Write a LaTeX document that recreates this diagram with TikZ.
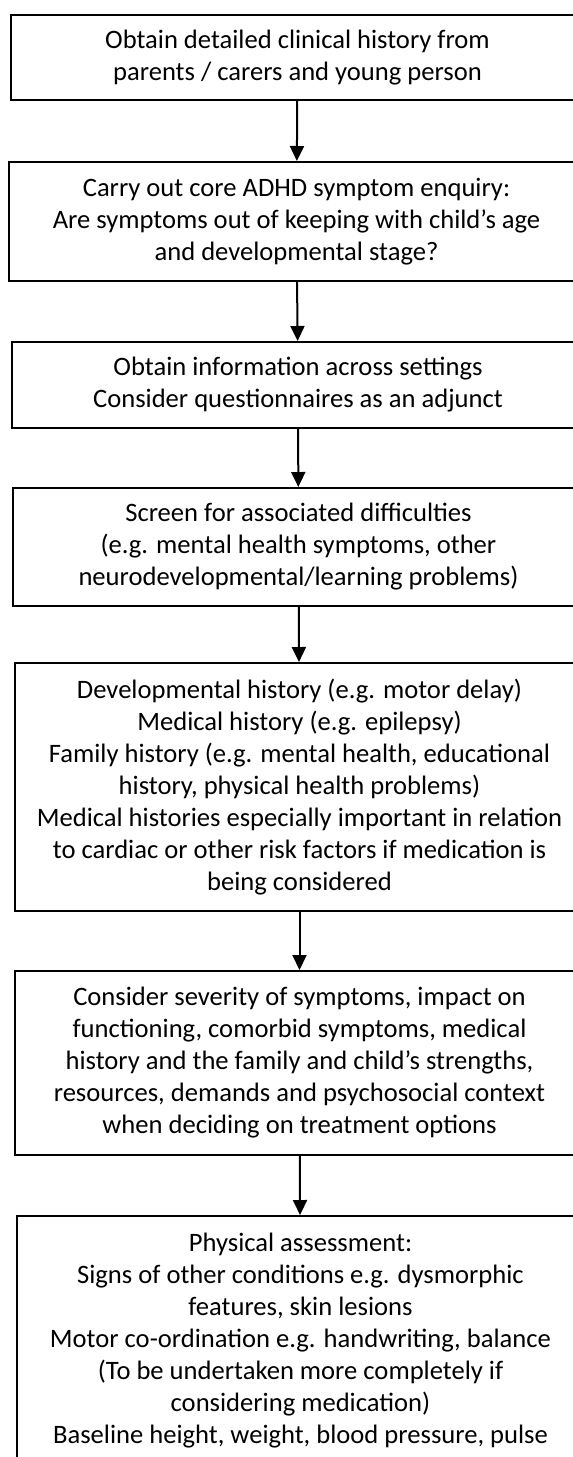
\documentclass[tikz,border=0pt]{standalone}
\usepackage{fontspec}
\setmainfont{Carlito}
\usetikzlibrary{arrows.meta}
\usetikzlibrary{positioning}

\tikzset{
	stepbox/.style = {draw, line width = 1pt, rectangle, align = center, inner sep = 0pt,
		font = \fontsize{13.3}{16}\selectfont},
	flow/.style = {line width = 1pt, -{Triangle[width = 7pt, length = 7.5pt]}}
}

\begin{document}
\begin{tikzpicture}[x = 0.5pt, y = 0.5pt]

	% page frame, the boxes run past the right edge
	\useasboundingbox (0,0) rectangle (573,-1457);
	\clip (0,0) rectangle (573,-1457);
	\def \rightEdge {584};

	% boxes, top to bottom
	\node [stepbox, minimum width = {(\rightEdge - 11) * 0.5pt}, minimum height = 42.5pt] (history) at ({(\rightEdge + 11) / 2}, -57.5)
		{Obtain detailed clinical history from\\parents / carers and young person};
	\node [stepbox, minimum width = {(\rightEdge - 9) * 0.5pt}, minimum height = 59.5pt] (enquiry) at ({(\rightEdge + 9) / 2}, -221.5)
		{Carry out core ADHD symptom enquiry:\\Are symptoms out of keeping with child’s age\\and developmental stage?};
	\node [stepbox, minimum width = {(\rightEdge - 12) * 0.5pt}, minimum height = 43pt] (settings) at ({(\rightEdge + 12) / 2}, -385)
		{Obtain information across settings\\Consider questionnaires as an adjunct};
	\node [stepbox, minimum width = {(\rightEdge - 13) * 0.5pt}, minimum height = 59pt] (screen) at ({(\rightEdge + 13) / 2}, -547)
		{Screen for associated difficulties\\(e.g. mental health symptoms, other\\neurodevelopmental/learning problems)};
	\node [stepbox, minimum width = {(\rightEdge - 15) * 0.5pt}, minimum height = 124pt] (background) at ({(\rightEdge + 15) / 2}, -787)
		{Developmental history (e.g. motor delay)\\Medical history (e.g. epilepsy)\\Family history (e.g. mental health, educational\\history, physical health problems)\\Medical histories especially important in relation\\to cardiac or other risk factors if medication is\\being considered};
	\node [stepbox, minimum width = {(\rightEdge - 15) * 0.5pt}, minimum height = 92pt] (severity) at ({(\rightEdge + 15) / 2}, -1063)
		{Consider severity of symptoms, impact on\\functioning, comorbid symptoms, medical\\history and the family and child’s strengths,\\resources, demands and psychosocial context\\when deciding on treatment options};
	\node [stepbox, minimum width = {(\rightEdge - 17) * 0.5pt}, minimum height = 124.5pt] (physical) at ({(\rightEdge + 17) / 2}, -1340.5)
		{Physical assessment:\\Signs of other conditions e.g. dysmorphic\\features, skin lesions\\Motor co-ordination e.g. handwriting, balance\\(To be undertaken more completely if\\considering medication)\\Baseline height, weight, blood pressure, pulse};

	% arrows between the boxes
	\draw [flow] (history) -- (enquiry);
	\draw [flow] (enquiry) -- (settings);
	\draw [flow] (settings) -- (screen);
	\draw [flow] (screen) -- (background);
	\draw [flow] (background) -- (severity);
	\draw [flow] (severity) -- (physical);

\end{tikzpicture}
\end{document}
